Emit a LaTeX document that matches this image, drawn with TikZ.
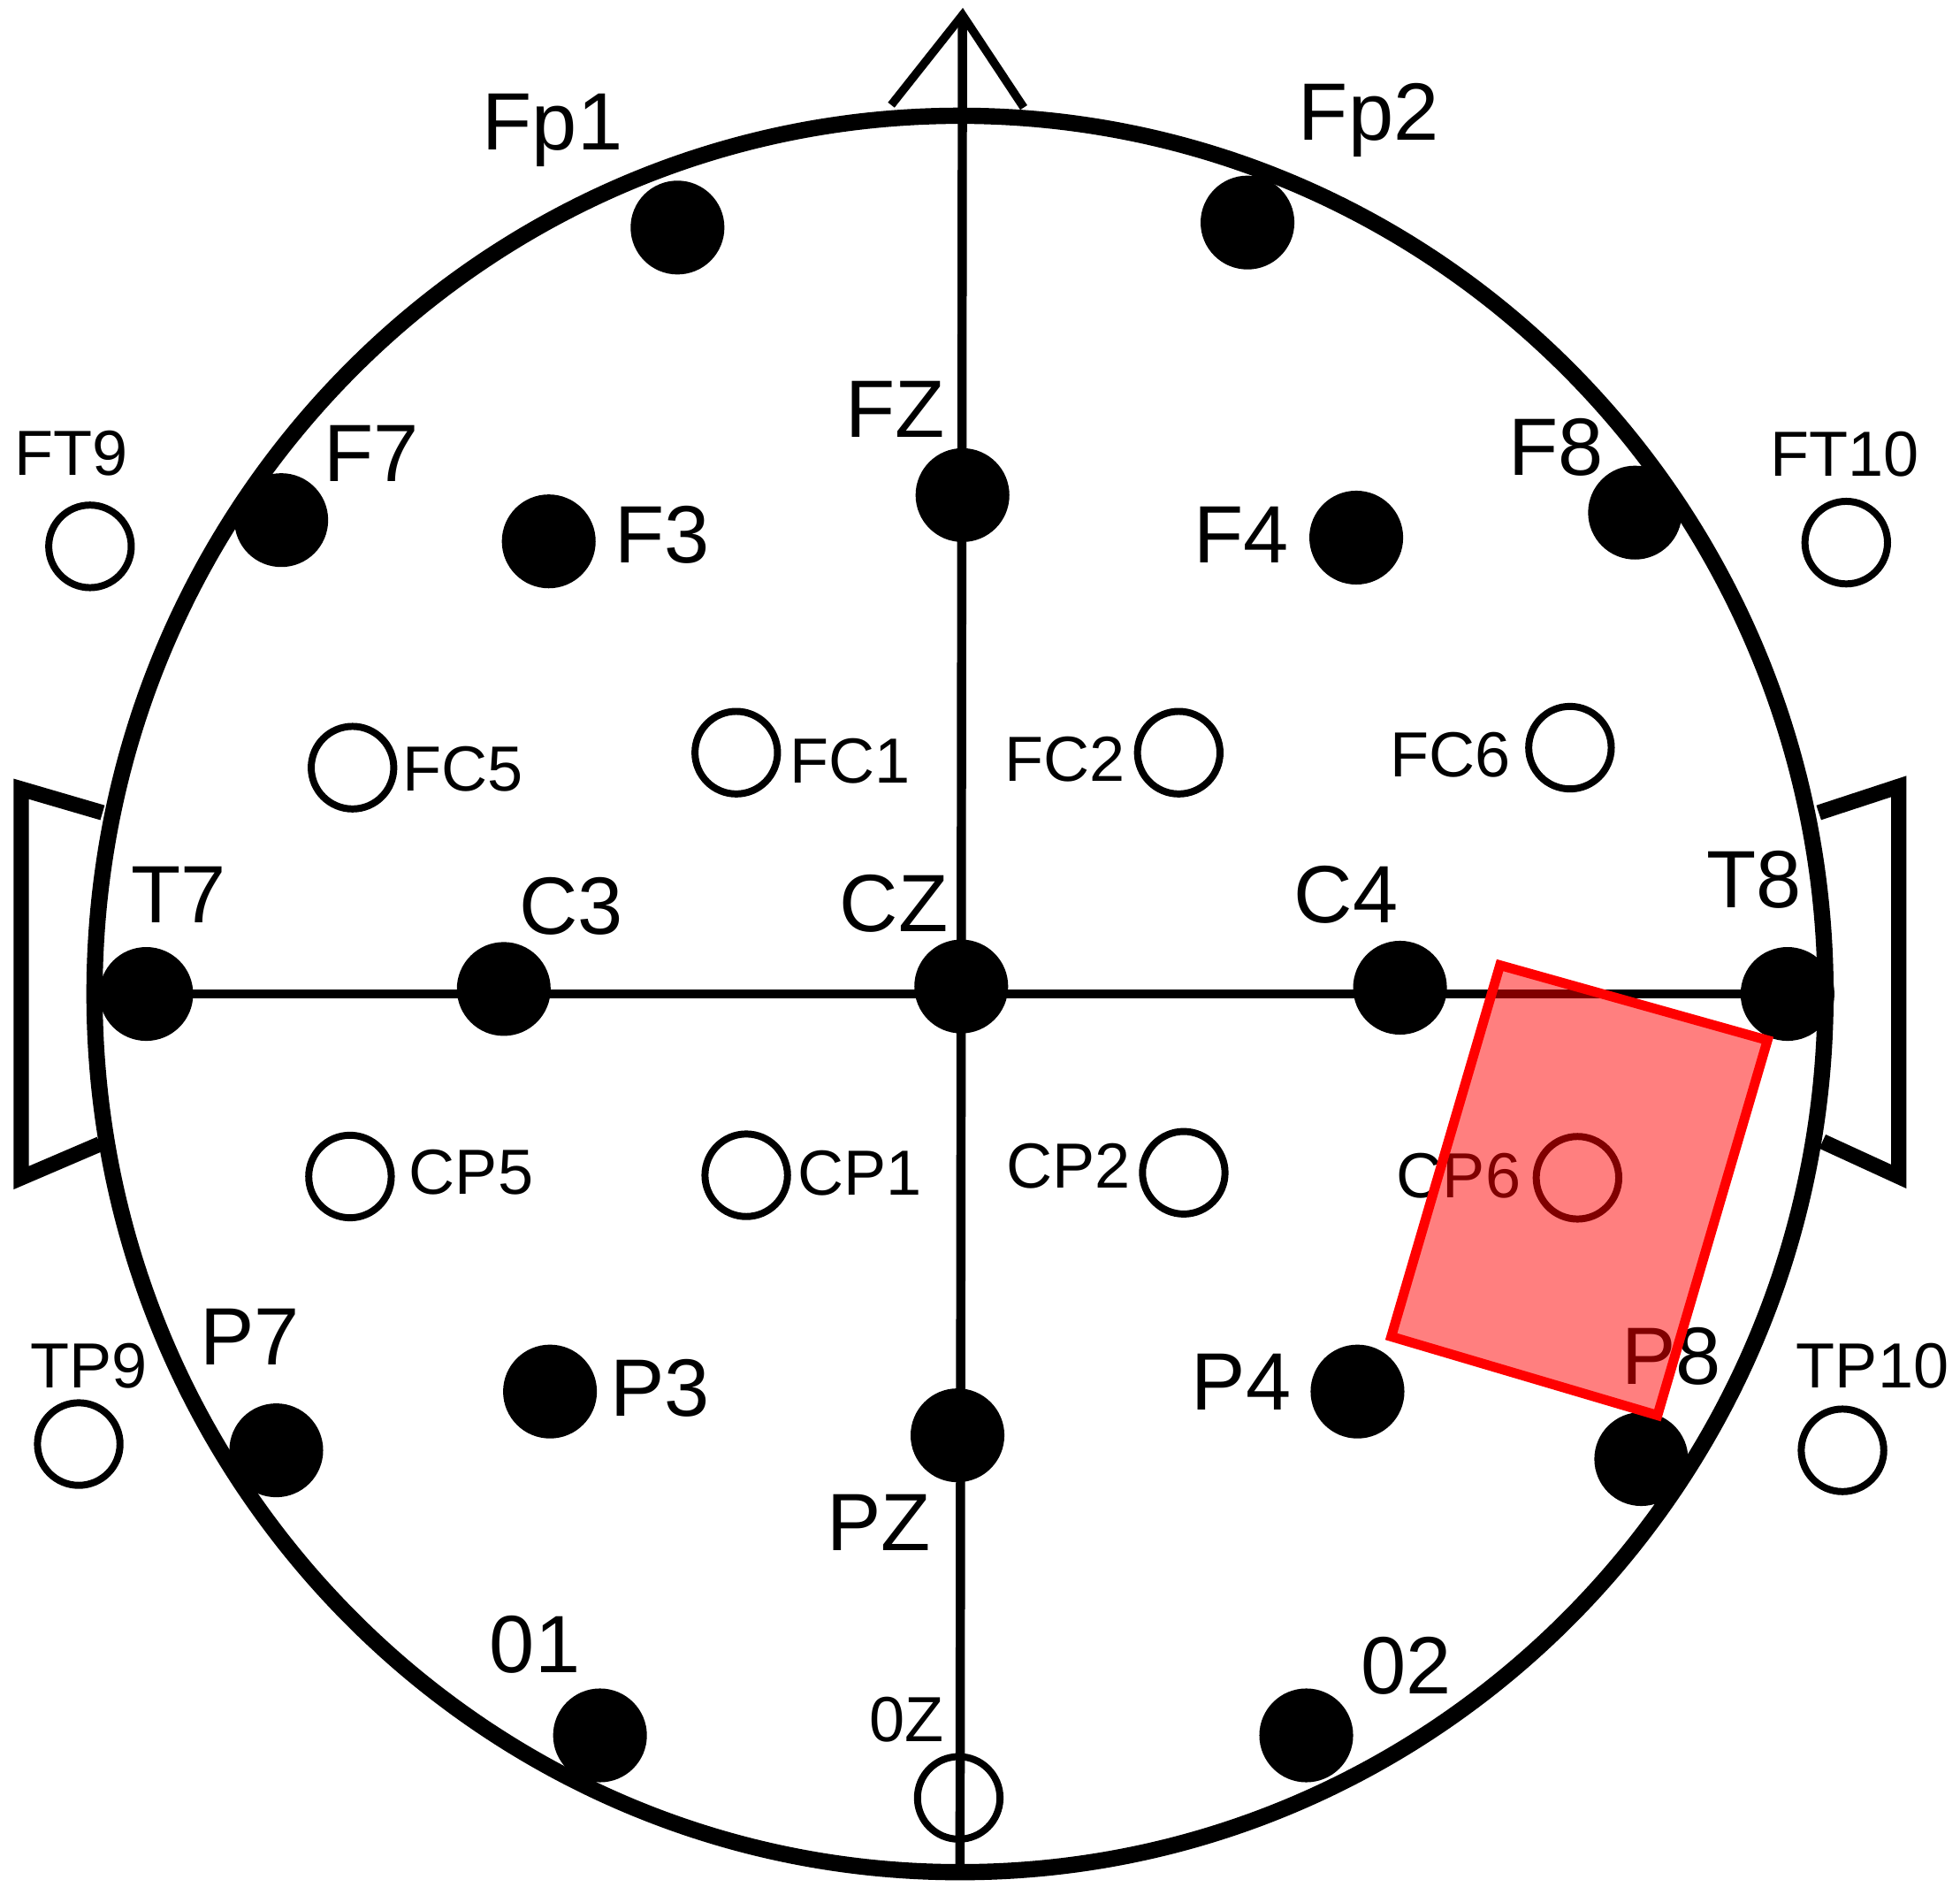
\documentclass[tikz,border=0pt]{standalone}
\usepackage{fontspec}
\setmainfont{Liberation Sans}
\begin{document}
\begin{tikzpicture}[x=0.01cm,y=-0.01cm,
    elfull/.style={circle,fill=black,inner sep=0pt,minimum size=0.75cm},
    elempty/.style={circle,draw=black,line width=1.6pt,inner sep=0pt,minimum size=0.66cm},
    lblbig/.style={inner sep=0pt,anchor=base,font=\fontsize{18.5}{18.5}\selectfont},
    lblsmall/.style={inner sep=0pt,anchor=base,font=\fontsize{14.5}{14.5}\selectfont}]
    \useasboundingbox (0,0) rectangle (1568,1515);
    %Head, nose and ears
    \draw[line width=3.7pt] (768,795) ellipse [x radius=6.92cm, y radius=7.02cm];
    \coordinate (apex) at (770,12);
    \coordinate (chin) at (768,1497);
    \draw[line width=1.9pt,line join=miter] (713,84) -- (apex) -- (819,86);
    \draw[line width=3.5pt] (82,650) -- (17,631) -- (17,942) -- (80,915);
    \draw[line width=3.5pt] (1455,650) -- (1519,629) -- (1519,941) -- (1458,913);
    %Frontal
    \node[elfull] (Fp1) at (542,182) {};
    \node[elfull] (Fp2) at (998,178) {};
    \node[elfull] (F7) at (225,416) {};
    \node[elfull] (F3) at (439,433) {};
    \node[elfull] (FZ) at (770,396) {};
    \node[elfull] (F4) at (1085,430) {};
    \node[elfull] (F8) at (1308,410) {};
    \node[elempty] (FT9) at (72,437) {};
    \node[elempty] (FT10) at (1477,434) {};
    %Fronto-central
    \node[elempty] (FC5) at (282,614) {};
    \node[elempty] (FC1) at (589,602) {};
    \node[elempty] (FC2) at (943,602) {};
    \node[elempty] (FC6) at (1256,598) {};
    %Central
    \node[elfull] (T7) at (117,795) {};
    \node[elfull] (C3) at (403,791) {};
    \node[elfull] (CZ) at (769,789) {};
    \node[elfull] (C4) at (1120,790) {};
    \node[elfull] (T8) at (1430,795) {};
    %Centro-parietal
    \node[elempty] (CP5) at (280,941) {};
    \node[elempty] (CP1) at (597,940) {};
    \node[elempty] (CP2) at (947,938) {};
    \node[elempty] (CP6) at (1262,942) {};
    %Parietal
    \node[elempty] (TP9) at (63,1155) {};
    \node[elfull] (P7) at (221,1160) {};
    \node[elfull] (P3) at (440,1113) {};
    \node[elfull] (PZ) at (766,1148) {};
    \node[elfull] (P4) at (1086,1113) {};
    \node[elfull] (P8) at (1313,1167) {};
    \node[elempty] (TP10) at (1474,1160) {};
    %Occipital
    \node[elfull] (O1) at (480,1388) {};
    \node[elempty] (OZ) at (767,1438) {};
    \node[elfull] (O2) at (1045,1388) {};
    %Midlines
    \draw[line width=2.1pt] (apex) -- (chin);
    \draw[line width=2.1pt] (T7.center) -- (T8.center);
    %Labels
    \node[lblbig] (tFp1) at (442,120) {Fp1};
    \node[lblbig] (tFp2) at (1095,112) {Fp2};
    \node[lblbig] (tF7) at (297,385) {F7};
    \node[lblbig] (tF3) at (530,450) {F3};
    \node[lblbig] (tFZ) at (716,350) {FZ};
    \node[lblbig] (tF4) at (993,450) {F4};
    \node[lblbig] (tF8) at (1245,380) {F8};
    \node[lblbig] (tT7) at (143,738) {T7};
    \node[lblbig] (tC3) at (457,747) {C3};
    \node[lblbig] (tCZ) at (715,745) {CZ};
    \node[lblbig] (tC4) at (1077,738) {C4};
    \node[lblbig] (tT8) at (1403,726) {T8};
    \node[lblbig] (tP7) at (200,1092) {P7};
    \node[lblbig] (tP3) at (528,1133) {P3};
    \node[lblbig] (tPZ) at (703,1240) {PZ};
    \node[lblbig] (tP4) at (993,1128) {P4};
    \node[lblbig] (tP8) at (1337,1107) {P8};
    \node[lblbig] (tO1) at (428,1338) {01};
    \node[lblbig] (tO2) at (1125,1355) {02};
    \node[lblsmall] (tFT9) at (57,380) {FT9};
    \node[lblsmall] (tFT10) at (1476,381) {FT10};
    \node[lblsmall] (tFC5) at (370,633) {FC5};
    \node[lblsmall] (tFC1) at (680,626) {FC1};
    \node[lblsmall] (tFC2) at (852,625) {FC2};
    \node[lblsmall] (tFC6) at (1160,621) {FC6};
    \node[lblsmall] (tCP5) at (377,955) {CP5};
    \node[lblsmall] (tCP1) at (688,956) {CP1};
    \node[lblsmall] (tCP2) at (855,950) {CP2};
    \node[lblsmall] (tCP6) at (1167,958) {CP6};
    \node[lblsmall] (tTP9) at (71,1110) {TP9};
    \node[lblsmall] (tTP10) at (1498,1110) {TP10};
    \node[lblsmall] (tOZ) at (725,1393) {0Z};
    %Highlight
    \draw[red,line width=2.2pt,fill=red,fill opacity=0.5] (1200,772) -- (1414,832) -- (1326,1132) -- (1113,1069) -- cycle;
\end{tikzpicture}
\end{document}
